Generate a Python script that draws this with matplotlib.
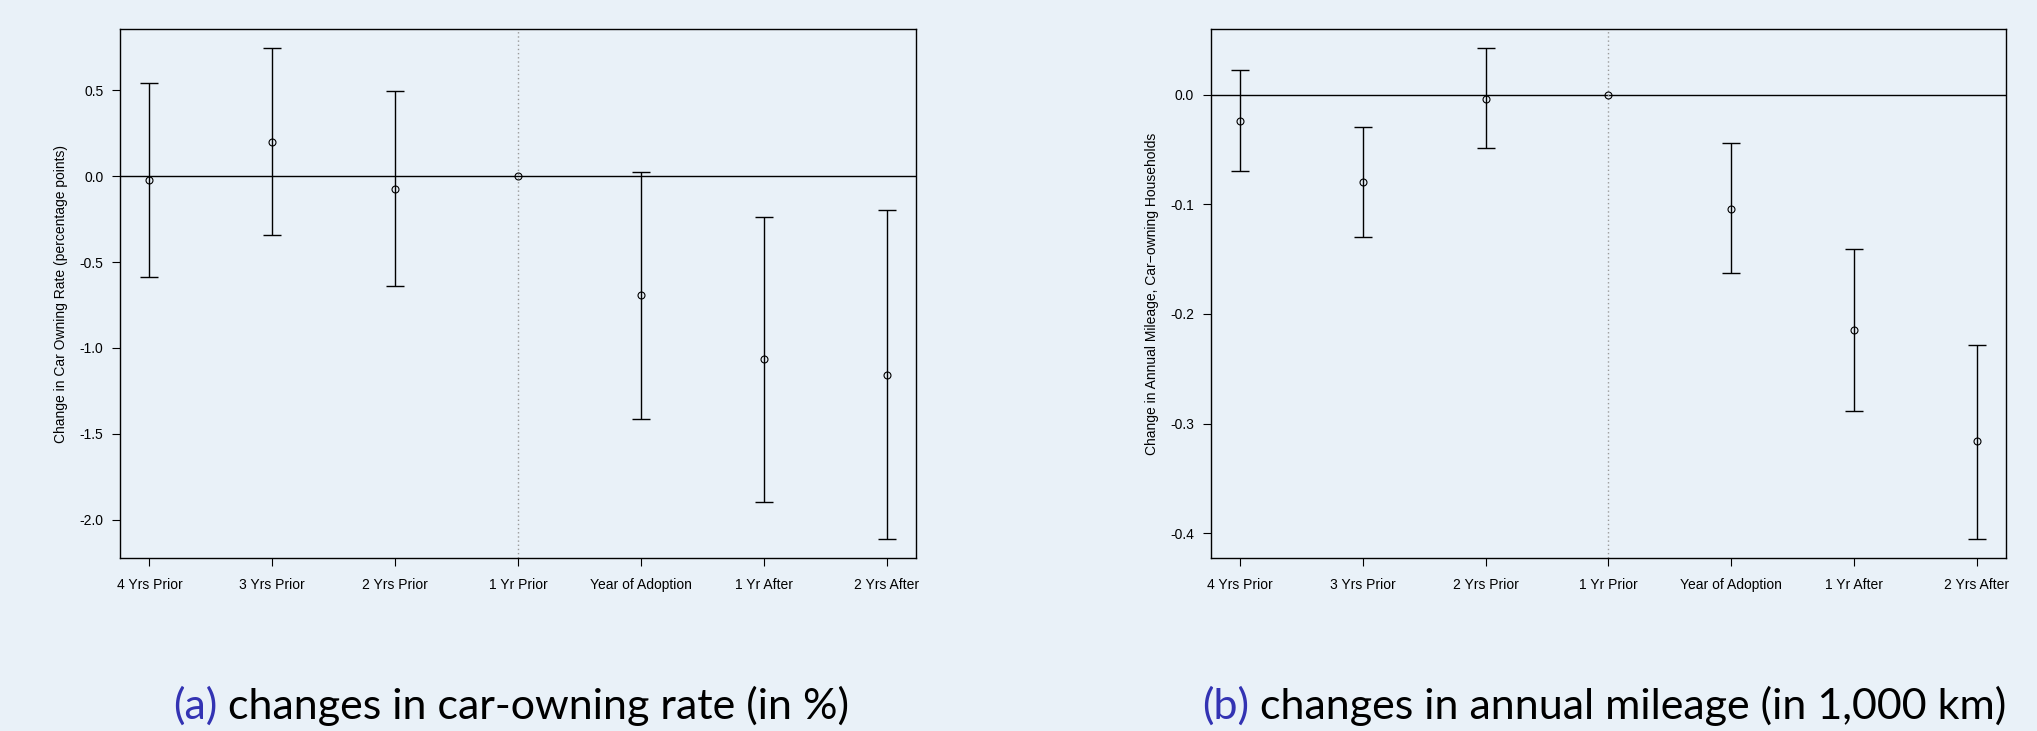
import numpy as np
import matplotlib
matplotlib.use("Agg")
import matplotlib.pyplot as plt
from matplotlib.ticker import FormatStrFormatter

plt.rcParams['font.family'] = ['Liberation Sans', 'DejaVu Sans']
plt.rcParams['axes.unicode_minus'] = False

# period labels shared by both panels
periods = ["4 Yrs Prior", "3 Yrs Prior", "2 Yrs Prior", "1 Yr Prior",
           "Year of Adoption", "1 Yr After", "2 Yrs After"]

# (a) car-owning rate, percentage points
est_a = [-0.023, 0.198, -0.074, 0.0, -0.693, -1.066, -1.155]
lo_a = [-0.587, -0.345, -0.638, 0.0, -1.411, -1.894, -2.110]
hi_a = [0.543, 0.743, 0.493, 0.0, 0.025, -0.235, -0.200]
yticks_a = [-2.0, -1.5, -1.0, -0.5, 0.0, 0.5]

# (b) annual mileage, car-owning households
est_b = [-0.024, -0.080, -0.004, 0.0, -0.104, -0.215, -0.316]
lo_b = [-0.070, -0.130, -0.049, 0.0, -0.163, -0.289, -0.405]
hi_b = [0.022, -0.030, 0.042, 0.0, -0.044, -0.141, -0.228]
yticks_b = [-0.4, -0.3, -0.2, -0.1, 0.0]

ylabel_a = "Change in Car Owning Rate (percentage points)"
ylabel_b = "Change in Annual Mileage, Car\u2212owning Households"
caption_a = ("(a)", " changes in car-owning rate (in %)")
caption_b = ("(b)", " changes in annual mileage (in 1,000 km)")

bg = "#e9f1f8"
blue = "#3333b3"

fig = plt.figure(figsize=(20.37, 7.31), dpi=100, facecolor=bg)
ax_a = fig.add_axes([0.0589, 0.2363, 0.3908, 0.7242])
ax_b = fig.add_axes([0.5943, 0.2363, 0.3905, 0.7242])


def coef_plot(ax, est, lo, hi, yticks, ylabel):
    est, lo, hi = np.array(est), np.array(lo), np.array(hi)
    x = np.arange(1, len(est) + 1)
    ax.set_facecolor(bg)
    ax.axhline(0, color="black", lw=1.0, zorder=1)
    ax.axvline(4, color="#9a9a9a", lw=1.0, ls=(0, (1, 2)), zorder=1)
    has_ci = hi != lo
    ax.errorbar(x[has_ci], est[has_ci],
                yerr=[est[has_ci] - lo[has_ci], hi[has_ci] - est[has_ci]],
                fmt="none", ecolor="black", elinewidth=1.0, capsize=6.5,
                capthick=1.0, zorder=2)
    ax.plot(x, est, "o", ms=5, mfc="none", mec="black", mew=0.8, zorder=3)
    # R-style 4% padding around the data
    rng = max(hi) - min(lo)
    ax.set_ylim(min(lo) - 0.04 * rng, max(hi) + 0.04 * rng)
    ax.set_xlim(1 - 0.04 * 6, 7 + 0.04 * 6)
    ax.set_xticks(x)
    ax.set_xticklabels(periods)
    ax.set_yticks(yticks)
    ax.yaxis.set_major_formatter(FormatStrFormatter("%.1f"))
    ax.tick_params(direction="out", length=6, width=0.8, labelsize=10,
                   colors="black")
    ax.tick_params(axis="x", pad=8)
    ax.tick_params(axis="y", pad=6)
    for s in ax.spines.values():
        s.set_linewidth(1.0)
    ax.set_ylabel(ylabel, fontsize=10)
    ax.yaxis.set_label_coords(-0.065, 0.5)


coef_plot(ax_a, est_a, lo_a, hi_a, yticks_a, ylabel_a)
coef_plot(ax_b, est_b, lo_b, hi_b, yticks_b, ylabel_b)


def caption(x0, parts):
    # blue "(a)" tag followed by the black caption text
    t1 = fig.text(x0, 1 - 719 / 731, parts[0], color=blue, fontsize=31,
                  family="Lato", va="baseline", ha="left")
    fig.add_artist(plt.Annotation(parts[1], xy=(1, 0), xycoords=t1,
                                  va="bottom", ha="left", fontsize=31,
                                  family="Lato", color="black",
                                  annotation_clip=False))


caption(173 / 2037, caption_a)
caption(1202 / 2037, caption_b)

fig.savefig("out.png", dpi=100, facecolor=bg)
